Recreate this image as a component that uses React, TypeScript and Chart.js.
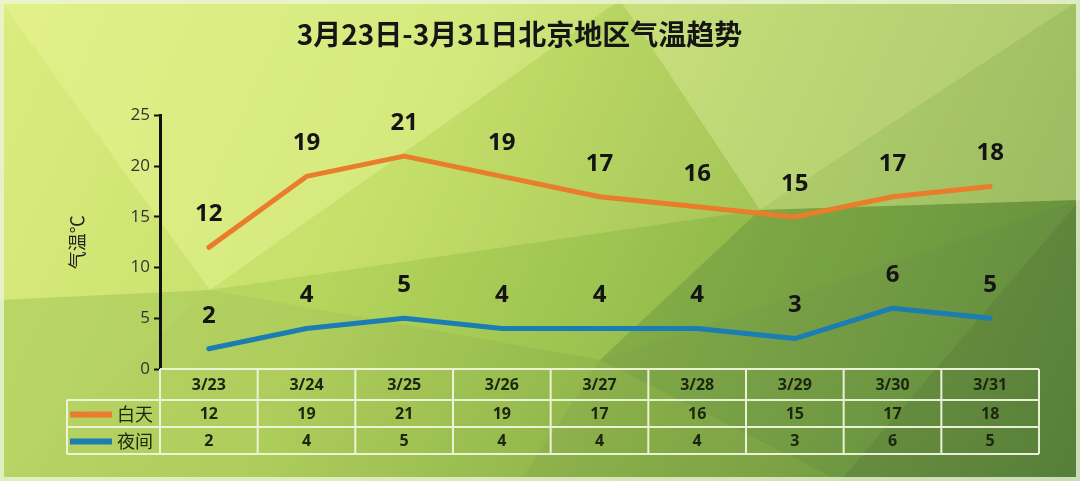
import React, { useEffect, useRef } from "react";
import { Chart, registerables } from "chart.js";

Chart.register(...registerables);

const categories = ["3/23", "3/24", "3/25", "3/26", "3/27", "3/28", "3/29", "3/30", "3/31"];
const dayTemps = [12, 19, 21, 19, 17, 16, 15, 17, 18];
const nightTemps = [2, 4, 5, 4, 4, 4, 3, 6, 5];
const seriesNames = ["白天", "夜间"];
const seriesColors = ["#e97d2c", "#1c7db3"];
const titleText = "3月23日-3月31日北京地区气温趋势";
const yTitle = "气温℃";

const bgPlugin = {
  id: "lowpolyBg",
  beforeDraw(chart: any) {
    const { ctx, width, height } = chart;
    ctx.save();
    const g = ctx.createLinearGradient(0, 0, width, height);
    g.addColorStop(0, "#dcec80");
    g.addColorStop(0.35, "#c6df6a");
    g.addColorStop(0.65, "#93b84e");
    g.addColorStop(1, "#62893e");
    ctx.fillStyle = g;
    ctx.fillRect(0, 0, width, height);
    const polys: [number[][], string][] = [
      [[[0, 0], [620, 0], [210, 290]], "rgba(232,246,150,0.45)"],
      [[[620, 0], [1080, 0], [760, 210]], "rgba(222,238,150,0.55)"],
      [[[760, 210], [1080, 0], [1080, 200]], "rgba(210,232,140,0.45)"],
      [[[210, 290], [620, 0], [760, 210]], "rgba(200,226,110,0.35)"],
      [[[0, 300], [210, 290], [0, 481]], "rgba(150,190,80,0.45)"],
      [[[0, 481], [210, 290], [520, 481]], "rgba(120,165,60,0.3)"],
      [[[210, 290], [760, 210], [600, 360]], "rgba(150,195,70,0.35)"],
      [[[600, 360], [760, 210], [1080, 200]], "rgba(95,145,55,0.4)"],
      [[[600, 360], [1080, 200], [840, 481]], "rgba(90,135,60,0.4)"],
      [[[840, 481], [1080, 200], [1080, 481]], "rgba(70,110,50,0.4)"],
      [[[520, 481], [600, 360], [840, 481]], "rgba(110,150,60,0.35)"],
      [[[210, 290], [600, 360], [520, 481]], "rgba(120,165,60,0.3)"],
    ];
    for (const [pts, col] of polys) {
      ctx.beginPath();
      ctx.moveTo(pts[0][0], pts[0][1]);
      for (let i = 1; i < pts.length; i++) ctx.lineTo(pts[i][0], pts[i][1]);
      ctx.closePath();
      ctx.fillStyle = col;
      ctx.fill();
    }
    ctx.strokeStyle = "rgba(235,245,215,0.8)";
    ctx.lineWidth = 4;
    ctx.strokeRect(2, 2, width - 4, height - 4);
    ctx.restore();
  },
};

const labelsPlugin = {
  id: "pointLabels",
  afterDatasetsDraw(chart: any) {
    const { ctx } = chart;
    ctx.save();
    ctx.font = "bold 24px 'Open Sans', 'Noto Sans', sans-serif";
    ctx.fillStyle = "#141414";
    ctx.textAlign = "center";
    ctx.textBaseline = "middle";
    chart.data.datasets.forEach((ds: any, di: number) => {
      const meta = chart.getDatasetMeta(di);
      meta.data.forEach((pt: any, i: number) => {
        ctx.fillText(String(ds.data[i]), pt.x, pt.y - 33);
      });
    });
    ctx.restore();
  },
};

const tablePlugin = {
  id: "dataTable",
  afterDraw(chart: any) {
    const { ctx, chartArea } = chart;
    const x = chart.scales.x;
    const n = categories.length;
    const colW = (chartArea.right - chartArea.left) / n;
    const top = chartArea.bottom;
    const rowH = [31, 27, 27];
    const legendLeft = 67;
    const left = chartArea.left;
    const right = chartArea.right;
    const y1 = top + rowH[0];
    const y2 = y1 + rowH[1];
    const y3 = y2 + rowH[2];
    ctx.save();
    ctx.strokeStyle = "rgba(240,246,220,0.95)";
    ctx.lineWidth = 2;
    ctx.beginPath();
    ctx.moveTo(left, top); ctx.lineTo(right, top);
    ctx.moveTo(legendLeft, y1); ctx.lineTo(right, y1);
    ctx.moveTo(legendLeft, y2); ctx.lineTo(right, y2);
    ctx.moveTo(legendLeft, y3); ctx.lineTo(right, y3);
    ctx.moveTo(legendLeft, y1); ctx.lineTo(legendLeft, y3);
    for (let i = 0; i <= n; i++) {
      const xx = left + i * colW;
      ctx.moveTo(xx, top); ctx.lineTo(xx, y3);
    }
    ctx.stroke();

    ctx.fillStyle = "#1c260e";
    ctx.textAlign = "center";
    ctx.textBaseline = "middle";
    ctx.font = "bold 16px 'Open Sans', 'Noto Sans', sans-serif";
    categories.forEach((c, i) => {
      const cx = x.getPixelForValue(i);
      ctx.fillText(c, cx, top + rowH[0] / 2 + 1);
      ctx.fillText(String(dayTemps[i]), cx, y1 + rowH[1] / 2 + 1);
      ctx.fillText(String(nightTemps[i]), cx, y2 + rowH[2] / 2 + 1);
    });

    const rows = [y1, y2];
    rows.forEach((ry, k) => {
      const cy = ry + rowH[k + 1] / 2;
      ctx.strokeStyle = seriesColors[k];
      ctx.lineWidth = 6;
      ctx.beginPath();
      ctx.moveTo(70, cy + 1);
      ctx.lineTo(112, cy + 1);
      ctx.stroke();
      ctx.fillStyle = "#1c260e";
      ctx.textAlign = "left";
      ctx.font = "18px 'Noto Sans CJK SC', sans-serif";
      ctx.fillText(seriesNames[k], 117, cy + 1);
    });
    ctx.restore();
  },
};

export default function App() {
  const ref = useRef<HTMLCanvasElement | null>(null);
  useEffect(() => {
    if (!ref.current) return;
    const chart = new Chart(ref.current, {
      type: "line",
      data: {
        labels: categories,
        datasets: [
          {
            label: seriesNames[0],
            data: dayTemps,
            borderColor: seriesColors[0],
            backgroundColor: seriesColors[0],
            borderWidth: 5,
            pointRadius: 0,
            tension: 0,
            borderJoinStyle: "round",
            borderCapStyle: "round",
          },
          {
            label: seriesNames[1],
            data: nightTemps,
            borderColor: seriesColors[1],
            backgroundColor: seriesColors[1],
            borderWidth: 5,
            pointRadius: 0,
            tension: 0,
            borderJoinStyle: "round",
            borderCapStyle: "round",
          },
        ],
      },
      options: {
        animation: false,
        responsive: true,
        maintainAspectRatio: false,
        layout: { padding: { top: 0, left: 0, right: 41, bottom: 112 } },
        plugins: {
          legend: { display: false },
          tooltip: { enabled: false },
          title: {
            display: true,
            text: titleText,
            color: "#151515",
            font: { size: 28, weight: "bold", family: "'Noto Sans CJK SC', sans-serif" },
            padding: { top: 18, bottom: 64 },
          },
        },
        scales: {
          x: {
            display: false,
            offset: true,
          },
          y: {
            min: 0,
            max: 25,
            ticks: {
              stepSize: 5,
              color: "#333",
              padding: 4,
              font: { size: 17, family: "'Open Sans', 'Noto Sans', sans-serif" },
            },
            grid: {
              drawOnChartArea: false,
              drawTicks: true,
              tickLength: 6,
              tickColor: "#111",
              tickWidth: 2,
            },
            border: { display: true, color: "#111", width: 3 },
            title: {
              display: true,
              text: yTitle,
              color: "#222",
              font: { size: 18, family: "'Noto Sans CJK SC', sans-serif" },
              padding: { top: 66, bottom: 0 },
            },
            afterFit(scale: any) {
              scale.width = 160;
            },
          },
        },
      },
      plugins: [bgPlugin, labelsPlugin, tablePlugin],
    });
    return () => chart.destroy();
  }, []);
  return (
    <div style={{ position: "fixed", left: 0, top: 0, width: 1080, height: 481 }}>
      <canvas ref={ref} />
    </div>
  );
}
